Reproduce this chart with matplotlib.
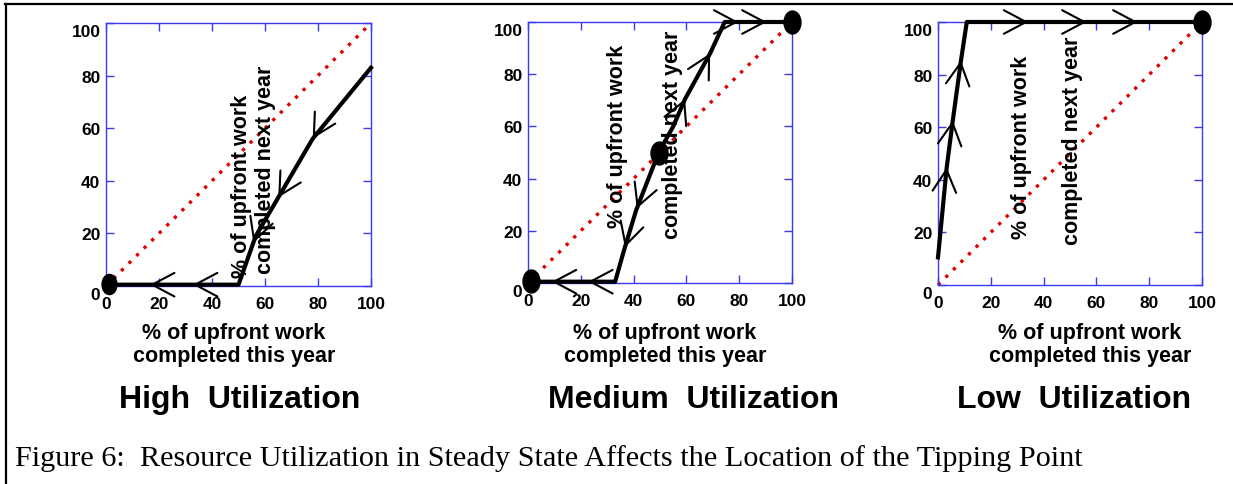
import numpy as np
import matplotlib.pyplot as plt
from matplotlib.lines import Line2D
from matplotlib.path import Path
from matplotlib.markers import MarkerStyle
from matplotlib.transforms import Affine2D, ScaledTranslation

plt.rcParams['font.family'] = ['Liberation Sans', 'DejaVu Sans']

# data
high_x = [1, 50, 56.5, 78, 100]
high_y = [0.5, 0.5, 19, 56, 83]
high_dots_x = [1]
high_dots_y = [0.8]
high_arrows = [16.6, 32.8, 55.6, 65, 78]
high_dirs = [-1, -1, -1, -1, -1]

med_x = [1, 33, 36.5, 41, 49.5, 55, 59.5, 69, 74.5, 100]
med_y = [0.5, 0.5, 13, 28, 50, 60, 70.5, 88, 100, 100]
med_dots_x = [1, 49.5, 100]
med_dots_y = [0.8, 50, 100]
med_arrows = [9, 22.8, 36.7, 41.2, 59.5, 69, 79.7, 90.4]
med_dirs = [-1, -1, -1, -1, 1, 1, 1, 1]

low_x = [0, 3.3, 5.6, 8.7, 10.9, 100]
low_y = [10.5, 44.7, 62.5, 85.3, 100, 100]
low_dots_x = [100]
low_dots_y = [100]
low_arrows = [3.3, 5.6, 8.7, 34.2, 56.3, 75.6]
low_dirs = [1, 1, 1, 1, 1, 1]

diag = [0, 100]
ticks = [0, 20, 40, 60, 80, 100]

titles = ['High  Utilization', 'Medium  Utilization', 'Low  Utilization']
xlabel = '% of upfront work\ncompleted this year'
ylab1 = '% of upfront work'
ylab2 = 'completed next year'
caption = 'Figure 6:  Resource Utilization in Steady State Affects the Location of the Tipping Point'

W, H = 1233, 485
fig = plt.figure(figsize=(W / 100, H / 100), dpi=100)


def fx(x):
    return x / W


def fy(y):
    return 1 - y / H


# frame
fig.add_artist(Line2D([fx(5), 1], [fy(5), fy(5)], color='black', lw=1.6))
fig.add_artist(Line2D([fx(6), fx(6)], [fy(5), 0], color='black', lw=1.6))

boxes = [(106, 24, 371, 287), (528, 23, 792, 284), (938, 23, 1202, 286)]
ylab_pos = [((0.513, 0.384), (0.60, 0.445)),
            ((0.34, 0.565), (0.549, 0.571)),
            ((0.318, 0.527), (0.511, 0.551))]
xlab_x = [234, 665, 1090]
title_x = [240, 694, 1074]
dot_size = [14.5, 16.5, 16.5]

series = [(high_x, high_y, high_dots_x, high_dots_y, high_arrows, high_dirs),
          (med_x, med_y, med_dots_x, med_dots_y, med_arrows, med_dirs),
          (low_x, low_y, low_dots_x, low_dots_y, low_arrows, low_dirs)]

ellipse = Path.unit_circle().transformed(Affine2D().scale(0.74, 1.0))
blue = '#3a3af0'

for i, (l, t, r, b) in enumerate(boxes):
    ax = fig.add_axes([fx(l), fy(b), fx(r - l), (b - t) / H])
    xs, ys, dx, dy, arr, dirs = series[i]
    ax.set_xlim(0, 100)
    ax.set_ylim(0, 100)
    ax.plot(diag, diag, color='#e00000', lw=2.4, linestyle=(0, (1, 2.2)),
            solid_capstyle='butt', clip_on=False)
    ax.plot(xs, ys, color='black', lw=3, clip_on=False, zorder=3)
    ax.plot(dx, dy, linestyle='none', marker=MarkerStyle(ellipse),
            markersize=dot_size[i], color='black', clip_on=False, zorder=4)
    for ax_x, d in zip(arr, dirs):
        tip_y = np.interp(ax_x, xs, ys)
        k = np.searchsorted(xs, ax_x)
        k = min(max(k, 1), len(xs) - 1)
        vx, vy = xs[k] - xs[k - 1], ys[k] - ys[k - 1]
        n = np.hypot(vx, vy)
        vx, vy = d * vx / n, d * vy / n
        ax.annotate('', xy=(ax_x, tip_y), xytext=(ax_x - 3 * vx, tip_y - 3 * vy),
                    arrowprops=dict(arrowstyle='->,head_length=16,head_width=8.5',
                                    mutation_scale=1, lw=1.5, color='black',
                                    shrinkA=0, shrinkB=0),
                    annotation_clip=False, zorder=5)
    ax.set_xticks(ticks)
    ax.set_yticks(ticks)
    ax.tick_params(direction='in', top=True, right=True, length=6, width=1,
                   color=blue, labelsize=12.5, pad=4)
    ax.tick_params(axis='x', pad=7)
    for lab in ax.get_xticklabels() + ax.get_yticklabels():
        lab.set_fontweight('bold')
    ylabs = ax.get_yticklabels()
    for lab in (ylabs[0], ylabs[-1]):
        lab.set_transform(lab.get_transform() +
                          ScaledTranslation(0, -5 / 72, fig.dpi_scale_trans))
    for s in ax.spines.values():
        s.set_color(blue)
        s.set_linewidth(1)
    (p1, p2) = ylab_pos[i]
    ax.text(p1[0], p1[1], ylab1, transform=ax.transAxes, rotation=90,
            ha='center', va='center', fontsize=15.5, fontweight='bold', zorder=6)
    ax.text(p2[0], p2[1], ylab2, transform=ax.transAxes, rotation=90,
            ha='center', va='center', fontsize=15.5, fontweight='bold', zorder=6)
    fig.text(fx(xlab_x[i]), fy(345), xlabel, ha='center', va='center',
             fontsize=15.5, fontweight='bold', linespacing=1.15)
    fig.text(fx(title_x[i]), fy(400), titles[i], ha='center', va='center',
             fontsize=23, fontweight='bold')

fig.text(fx(15), fy(459), caption, ha='left', va='center', fontsize=21.8,
         family=['Liberation Serif', 'DejaVu Serif'])

fig.savefig('out.png', dpi=100)
